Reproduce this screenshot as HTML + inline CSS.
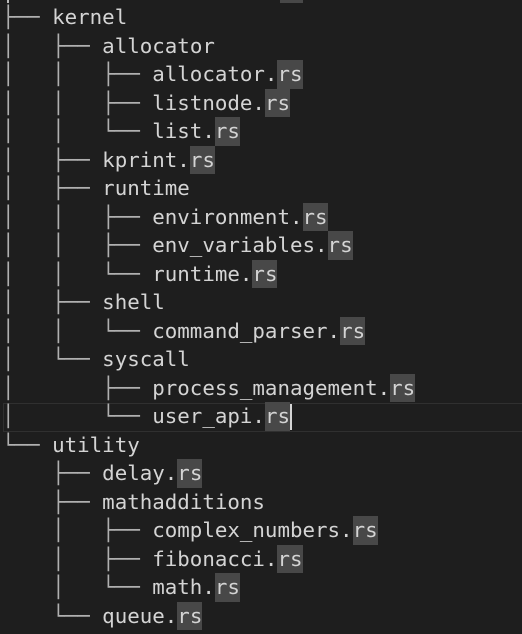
<!DOCTYPE html>
<html><head><style>
html,body{margin:0;padding:0;background:#1e1e1e;width:522px;height:634px;overflow:hidden;position:relative}
pre{position:absolute;left:2px;top:3px;margin:0;font-family:"DejaVu Sans Mono","Liberation Mono",monospace;font-size:20.8px;line-height:28.5px;color:#d4d4d4;letter-spacing:0}
pre div{height:28.5px;white-space:pre}
.h{background:#484848;display:inline-block;height:28.5px;vertical-align:top}
.t{color:#b0b0b0}
.cur{position:absolute;left:3px;right:0;top:403px;height:27px;border:1px solid #303030;border-right:none}
.caret{position:absolute;left:290px;top:404px;width:2px;height:26px;background:#d4d4d4}
</style></head><body>
<div style="position:absolute;left:280px;top:0;width:23px;height:3px;background:#484848"></div>
<div style="position:absolute;left:7px;top:0;width:2px;height:3px;background:#bbb"></div>
<div class="cur"></div>
<pre><div><span class="t">├── </span>kernel</div><div><span class="t">│   ├── </span>allocator</div><div><span class="t">│   │   ├── </span>allocator.<span class="h">rs</span></div><div><span class="t">│   │   ├── </span>listnode.<span class="h">rs</span></div><div><span class="t">│   │   └── </span>list.<span class="h">rs</span></div><div><span class="t">│   ├── </span>kprint.<span class="h">rs</span></div><div><span class="t">│   ├── </span>runtime</div><div><span class="t">│   │   ├── </span>environment.<span class="h">rs</span></div><div><span class="t">│   │   ├── </span>env_variables.<span class="h">rs</span></div><div><span class="t">│   │   └── </span>runtime.<span class="h">rs</span></div><div><span class="t">│   ├── </span>shell</div><div><span class="t">│   │   └── </span>command_parser.<span class="h">rs</span></div><div><span class="t">│   └── </span>syscall</div><div><span class="t">│       ├── </span>process_management.<span class="h">rs</span></div><div><span class="t">│       └── </span>user_api.<span class="h">rs</span></div><div><span class="t">└── </span>utility</div><div><span class="t">    ├── </span>delay.<span class="h">rs</span></div><div><span class="t">    ├── </span>mathadditions</div><div><span class="t">    │   ├── </span>complex_numbers.<span class="h">rs</span></div><div><span class="t">    │   ├── </span>fibonacci.<span class="h">rs</span></div><div><span class="t">    │   └── </span>math.<span class="h">rs</span></div><div><span class="t">    └── </span>queue.<span class="h">rs</span></div></pre>
<div class="caret"></div>
</body></html>
